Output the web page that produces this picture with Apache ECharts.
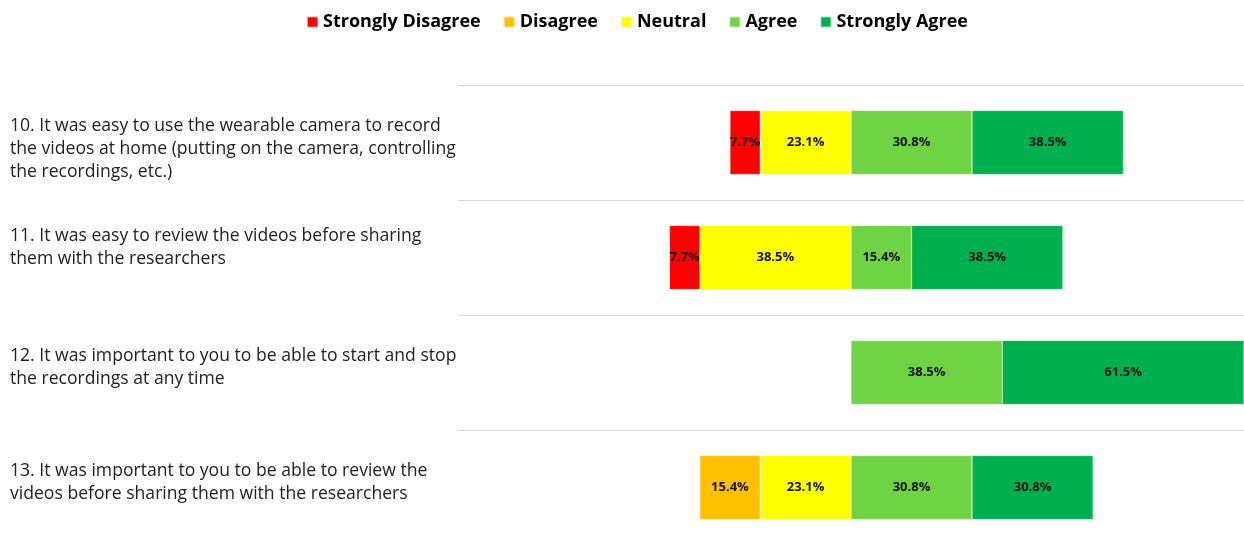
<!DOCTYPE html>
<html><head><meta charset="utf-8">
<script src="https://cdn.jsdelivr.net/npm/echarts@6/dist/echarts.min.js"></script>
<style>html,body{margin:0;padding:0;background:#fff}#c{width:1244px;height:540px}</style>
</head><body><div id="c"></div>
<script>
const categories = [
  "10. It was easy to use the wearable camera to record\nthe videos at home (putting on the camera, controlling\nthe recordings, etc.)",
  "11. It was easy to review the videos before sharing\nthem with the researchers",
  "12. It was important to you to be able to start and stop\nthe recordings at any time",
  "13. It was important to you to be able to review the\nvideos before sharing them with the researchers"
];
const stronglyDisagree = [7.7, 7.7, 0, 0];
const disagree = [0, 0, 0, 15.4];
const neutral = [23.1, 38.5, 0, 23.1];
const agree = [30.8, 15.4, 38.5, 30.8];
const stronglyAgree = [38.5, 38.5, 61.5, 30.8];
const legendNames = ["Strongly Disagree", "Disagree", "Neutral", "Agree", "Strongly Agree"];
const colors = {"Strongly Disagree":"#ff0000","Disagree":"#ffc000","Neutral":"#ffff00","Agree":"#6fd443","Strongly Agree":"#00b04f"};
// vertical nudges of the row labels: [leading spacer, trailing spacer] in px
const labelShift = [[12, 0], [0, 20], [0, 10], [0, 10]];

const chart = echarts.init(document.getElementById('c'));
const lbl = {
  show: true, position: 'inside', color: '#111', fontWeight: 'bold', fontSize: 13,
  fontFamily: 'Open Sans',
  formatter: p => p.value === 0 ? '' : Math.abs(p.value).toFixed(1) + '%'
};
function mk(name, data, neg) {
  return {
    name, type: 'bar', stack: 'total', barWidth: 64,
    data: data.map(v => neg ? -v : v),
    itemStyle: { color: colors[name], borderColor: 'rgba(255,255,255,0.6)', borderWidth: 0.5 },
    label: lbl
  };
}
const rich = { m: { fontSize: 17.6, lineHeight: 23, color: '#222', fontFamily: 'Open Sans', align: 'left' } };
[10, 12, 20].forEach(h => { rich['s' + h] = { fontSize: 1, lineHeight: h, height: h }; });
function fmtLabel(value, idx) {
  const [pre, post] = labelShift[idx] || [0, 0];
  let parts = value.split('\n').map(l => '{m|' + l + '}');
  if (pre) parts.unshift('{s' + pre + '| }');
  if (post) parts.push('{s' + post + '| }');
  return parts.join('\n');
}
chart.setOption({
  animation: false,
  legend: {
    data: legendNames, top: 8, left: 301, itemWidth: 11, itemHeight: 11, itemGap: 22,
    icon: 'rect',
    textStyle: { fontSize: 18, fontWeight: 'bold', color: '#000', fontFamily: 'Open Sans' }
  },
  grid: { left: 458, right: 0, top: 85, bottom: -5, containLabel: false, outerBoundsMode: 'none' },
  xAxis: { type: 'value', min: -100, max: 100, show: false },
  yAxis: {
    type: 'category', data: categories, inverse: true,
    axisLine: { show: false }, axisTick: { show: false },
    splitLine: { show: true, lineStyle: { color: '#d9d9d9', width: 1 } },
    axisLabel: { margin: 448, align: 'left', fontSize: 17.6, color: '#222', lineHeight: 23, fontFamily: 'Open Sans', formatter: fmtLabel, rich }
  },
  series: [
    mk("Neutral", neutral, true),
    mk("Disagree", disagree, true),
    mk("Strongly Disagree", stronglyDisagree, true),
    mk("Agree", agree, false),
    mk("Strongly Agree", stronglyAgree, false)
  ]
});
</script></body></html>
